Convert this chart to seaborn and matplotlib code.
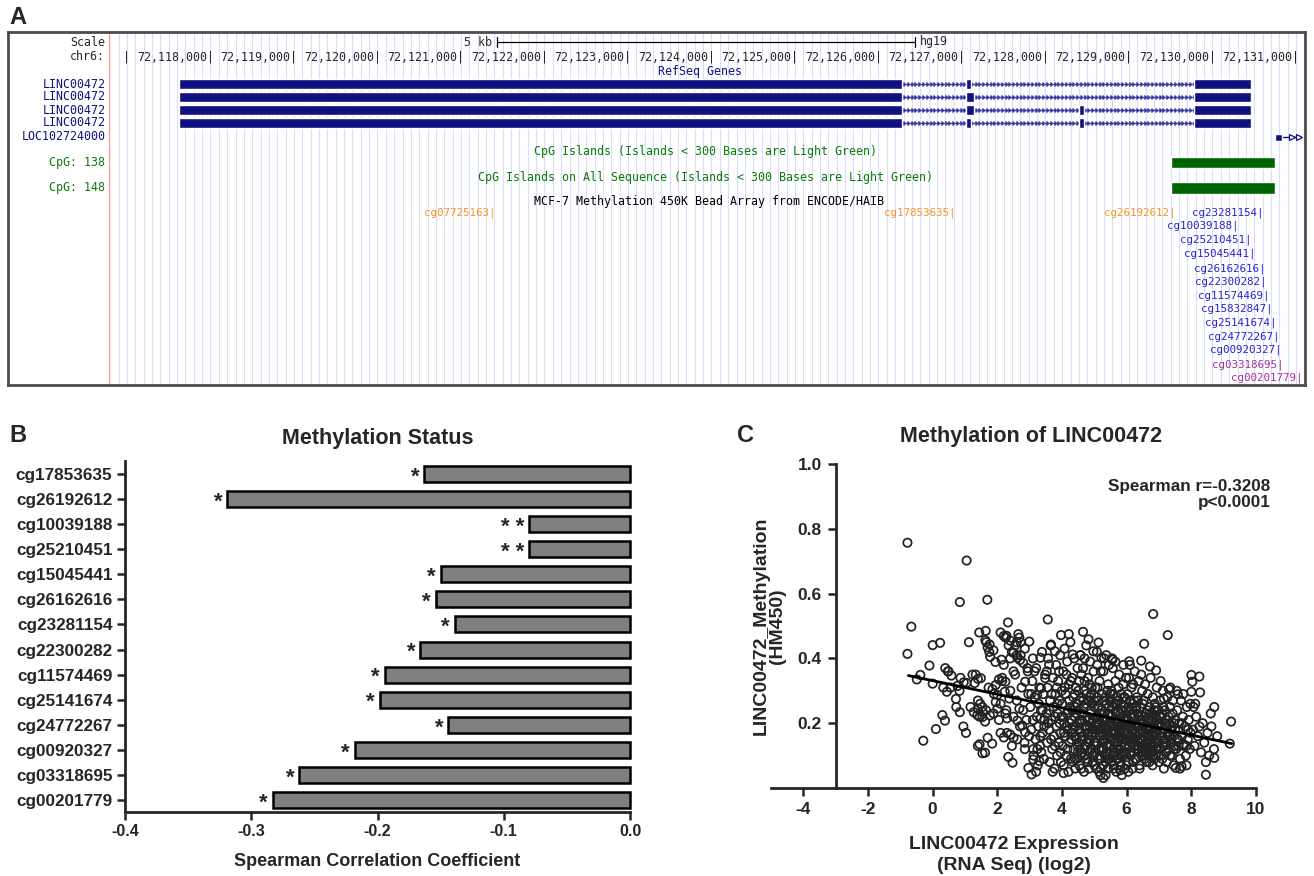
import numpy as np
import pandas as pd
import matplotlib
matplotlib.use("Agg")
import matplotlib.pyplot as plt
import seaborn as sns

# ------------------------------
# Panel A : UCSC browser track (hg19, chr6)
# ------------------------------
kb_ticks = list(range(72118000, 72132000, 1000))
scale_bar = [72121431, 72126437]
linc_exons = [
    [(72117620, 72126280), (72127050, 72127110), (72129778, 72130461)],
    [(72117620, 72126280), (72127050, 72127145), (72129778, 72130461)],
    [(72117620, 72126280), (72127050, 72127145), (72128400, 72128462), (72129778, 72130461)],
    [(72117620, 72126280), (72127050, 72127110), (72128400, 72128462), (72129778, 72130461)],
]
loc_gene = [72130750, 72130834, 72131061]
cpg_island = [72129503, 72130750]
probe_names = ['cg07725163', 'cg17853635', 'cg26192612', 'cg23281154', 'cg10039188',
               'cg25210451', 'cg15045441', 'cg26162616', 'cg22300282', 'cg11574469',
               'cg15832847', 'cg25141674', 'cg24772267', 'cg00920327', 'cg03318695',
               'cg00201779']
probe_pos = [72121383, 72126892, 72129527, 72130581, 72130281, 72130437, 72130485,
             72130605, 72130612, 72130653, 72130689, 72130737, 72130773, 72130796,
             72130820, 72131048]
probe_group = ['orange'] * 3 + ['blue'] * 11 + ['purple'] * 2

# ------------------------------
# Panel B : Spearman correlation per probe
# ------------------------------
probes_b = ['cg17853635', 'cg26192612', 'cg10039188', 'cg25210451', 'cg15045441',
            'cg26162616', 'cg23281154', 'cg22300282', 'cg11574469', 'cg25141674',
            'cg24772267', 'cg00920327', 'cg03318695', 'cg00201779']
rho_b = [-0.163, -0.319, -0.080, -0.080, -0.150, -0.154, -0.139, -0.166,
         -0.194, -0.198, -0.144, -0.218, -0.262, -0.283]
signif_b = ['*', '*', '* *', '* *', '*', '*', '*', '*', '*', '*', '*', '*', '*', '*']

# ------------------------------
# Panel C : expression vs methylation
# ------------------------------
outer_points = [
    (-0.78, 0.757), (1.05, 0.702), (0.84, 0.574), (1.69, 0.581), (-0.66, 0.498), (3.56, 0.52),
    (2.33, 0.511), (6.82, 0.537), (7.27, 0.472), (4.65, 0.482), (4.21, 0.475), (3.97, 0.472),
    (1.44, 0.48), (1.64, 0.485), (1.12, 0.45), (0.0, 0.441), (0.23, 0.448), (-0.78, 0.414),
    (-0.1, 0.378), (-0.38, 0.349), (-0.49, 0.335), (0.0, 0.322), (0.47, 0.36), (0.58, 0.347),
    (0.44, 0.297), (0.72, 0.275), (0.83, 0.30), (0.96, 0.326), (1.05, 0.324), (1.30, 0.324),
    (1.40, 0.337), (1.49, 0.339), (0.84, 0.234), (0.38, 0.208), (0.1, 0.182), (-0.29, 0.146),
    (1.03, 0.17), (1.27, 0.234), (1.54, 0.25), (1.54, 0.219), (1.62, 0.205), (1.77, 0.224),
    (1.84, 0.137), (1.62, 0.109), (1.54, 0.107), (2.2, 0.156), (2.47, 0.078), (3.06, 0.042),
    (4.05, 0.046), (5.28, 0.031), (5.80, 0.055), (8.45, 0.041), (8.71, 0.093), (8.62, 0.19),
    (9.23, 0.205), (9.19, 0.137), (8.71, 0.25), (8.0, 0.349), (8.25, 0.344), (8.27, 0.295),
    (8.03, 0.328), (8.0, 0.297), (8.07, 0.25), (7.31, 0.305), (6.91, 0.363), (7.15, 0.276),
    (7.58, 0.289), (7.76, 0.135), (7.85, 0.13), (7.52, 0.062), (7.70, 0.067), (6.54, 0.445),
    (6.08, 0.391), (6.45, 0.393), (6.72, 0.375), (5.13, 0.449), (4.82, 0.459), (4.97, 0.422),
    (5.22, 0.402), (5.56, 0.396), (3.66, 0.443), (3.78, 0.422), (4.33, 0.412), (4.57, 0.41),
    (3.33, 0.402), (2.68, 0.464), (2.99, 0.452), (2.2, 0.469), (2.26, 0.464), (1.76, 0.443),
    (1.88, 0.425), (1.94, 0.389), (2.13, 0.396), (2.5, 0.417), (2.62, 0.402), (2.8, 0.386),
    (2.94, 0.36), (2.86, 0.328), (2.5, 0.36), (2.25, 0.328), (2.23, 0.297), (1.95, 0.318),
    (2.0, 0.287), (2.37, 0.276), (2.68, 0.245), (2.62, 0.208), (2.77, 0.193), (2.86, 0.172),
    (2.84, 0.14), (3.11, 0.12), (3.11, 0.088), (3.3, 0.083), (3.33, 0.214), (3.23, 0.287),
    (3.35, 0.308), (3.48, 0.339), (3.6, 0.381),
    (1.63, 0.456), (1.66, 0.45), (1.70, 0.434), (1.75, 0.42), (1.78, 0.405), (2.10, 0.48),
    (2.28, 0.47), (2.40, 0.455), (2.55, 0.44), (2.65, 0.475), (2.72, 0.45), (2.45, 0.42),
    (2.6, 0.41), (2.7, 0.395), (0.39, 0.37), (0.49, 0.36), (0.86, 0.34), (1.23, 0.35),
    (1.33, 0.35), (0.33, 0.31), (0.55, 0.31), (0.77, 0.315), (1.73, 0.31), (1.85, 0.305),
    (2.05, 0.335), (2.15, 0.34), (1.40, 0.27), (1.47, 0.26), (1.40, 0.245), (1.55, 0.235),
    (1.65, 0.24), (1.38, 0.225), (1.45, 0.22), (1.9, 0.29), (1.95, 0.265), (2.0, 0.245),
    (1.88, 0.23), (2.25, 0.23), (2.3, 0.215), (0.73, 0.25), (1.17, 0.25), (0.3, 0.225),
    (0.95, 0.19), (1.4, 0.13), (1.45, 0.135), (1.7, 0.155), (2.1, 0.17), (2.4, 0.165),
    (2.5, 0.155), (2.34, 0.096), (2.96, 0.062),
]
cloud_points = [
    (2.05, 0.21), (2.1, 0.26), (2.15, 0.33), (2.2, 0.38), (2.28, 0.24), (2.3, 0.17), (2.35, 0.44),
    (2.4, 0.30), (2.45, 0.13), (2.5, 0.22), (2.55, 0.35), (2.6, 0.27), (2.62, 0.15), (2.7, 0.19),
    (2.72, 0.41), (2.75, 0.31), (2.8, 0.24), (2.85, 0.12), (2.9, 0.21), (2.93, 0.37), (2.96, 0.29),
    (2.98, 0.16), (2.6, 0.45), (2.4, 0.40), (2.85, 0.43),
    (3.02, 0.25), (3.05, 0.18), (3.08, 0.33), (3.1, 0.21), (3.12, 0.10), (3.15, 0.28), (3.18, 0.15),
    (3.2, 0.37), (3.22, 0.22), (3.25, 0.07), (3.27, 0.19), (3.3, 0.31), (3.32, 0.13), (3.35, 0.24),
    (3.38, 0.42), (3.4, 0.17), (3.42, 0.29), (3.44, 0.09), (3.46, 0.21), (3.48, 0.35), (3.1, 0.40),
    (3.2, 0.05), (3.28, 0.26), (3.36, 0.11), (3.45, 0.19), (3.05, 0.29), (3.15, 0.36), (3.4, 0.24),
    (3.33, 0.16), (3.24, 0.12),
    (3.52, 0.23), (3.54, 0.14), (3.55, 0.31), (3.57, 0.40), (3.6, 0.18), (3.62, 0.08), (3.63, 0.27),
    (3.65, 0.44), (3.67, 0.21), (3.7, 0.12), (3.72, 0.34), (3.74, 0.25), (3.75, 0.16), (3.77, 0.06),
    (3.8, 0.29), (3.82, 0.38), (3.83, 0.19), (3.85, 0.10), (3.87, 0.23), (3.88, 0.33), (3.9, 0.14),
    (3.92, 0.27), (3.94, 0.41), (3.95, 0.17), (3.97, 0.08), (3.98, 0.22), (3.53, 0.36), (3.58, 0.20),
    (3.68, 0.29), (3.71, 0.05), (3.78, 0.13), (3.86, 0.26), (3.91, 0.36), (3.96, 0.11), (3.61, 0.24),
    (3.66, 0.15), (3.79, 0.22), (3.84, 0.31), (3.93, 0.20), (3.99, 0.30),
    (4.01, 0.26), (4.02, 0.13), (4.04, 0.36), (4.05, 0.07), (4.07, 0.20), (4.08, 0.43), (4.1, 0.16),
    (4.11, 0.29), (4.13, 0.10), (4.15, 0.23), (4.16, 0.39), (4.18, 0.18), (4.2, 0.05), (4.21, 0.32),
    (4.23, 0.14), (4.25, 0.25), (4.26, 0.45), (4.28, 0.09), (4.3, 0.21), (4.31, 0.34), (4.33, 0.17),
    (4.35, 0.28), (4.36, 0.12), (4.38, 0.40), (4.4, 0.22), (4.41, 0.06), (4.43, 0.31), (4.45, 0.15),
    (4.46, 0.26), (4.48, 0.37), (4.49, 0.11), (4.03, 0.22), (4.09, 0.31), (4.12, 0.19), (4.17, 0.12),
    (4.22, 0.27), (4.24, 0.20), (4.29, 0.15), (4.32, 0.24), (4.37, 0.19), (4.42, 0.16), (4.44, 0.23),
    (4.47, 0.20), (4.06, 0.17), (4.14, 0.35), (4.19, 0.24), (4.27, 0.33), (4.34, 0.08), (4.39, 0.29),
    (4.46, 0.09),
    (4.5, 0.24), (4.51, 0.14), (4.53, 0.33), (4.54, 0.07), (4.56, 0.20), (4.57, 0.41), (4.59, 0.17),
    (4.6, 0.28), (4.62, 0.11), (4.63, 0.23), (4.65, 0.37), (4.66, 0.16), (4.68, 0.05), (4.69, 0.30),
    (4.71, 0.19), (4.72, 0.13), (4.74, 0.26), (4.75, 0.44), (4.77, 0.09), (4.78, 0.22), (4.8, 0.34),
    (4.81, 0.15), (4.83, 0.27), (4.84, 0.06), (4.86, 0.19), (4.87, 0.39), (4.89, 0.12), (4.9, 0.24),
    (4.92, 0.31), (4.93, 0.17), (4.95, 0.08), (4.96, 0.21), (4.98, 0.36), (4.99, 0.14), (4.52, 0.18),
    (4.55, 0.27), (4.58, 0.10), (4.61, 0.21), (4.64, 0.15), (4.67, 0.25), (4.7, 0.12), (4.73, 0.18),
    (4.76, 0.29), (4.79, 0.17), (4.82, 0.21), (4.85, 0.11), (4.88, 0.28), (4.91, 0.16), (4.94, 0.26),
    (4.97, 0.10), (4.6, 0.35), (4.7, 0.40), (4.85, 0.32), (4.55, 0.12), (4.9, 0.20),
    (5.0, 0.25), (5.01, 0.11), (5.03, 0.31), (5.04, 0.17), (5.06, 0.06), (5.07, 0.22), (5.09, 0.38),
    (5.1, 0.14), (5.12, 0.27), (5.13, 0.09), (5.15, 0.20), (5.16, 0.33), (5.18, 0.16), (5.19, 0.04),
    (5.21, 0.24), (5.22, 0.12), (5.24, 0.29), (5.25, 0.19), (5.27, 0.07), (5.28, 0.36), (5.3, 0.15),
    (5.31, 0.23), (5.33, 0.10), (5.34, 0.28), (5.36, 0.18), (5.37, 0.41), (5.39, 0.13), (5.4, 0.21),
    (5.42, 0.06), (5.43, 0.32), (5.45, 0.16), (5.46, 0.25), (5.48, 0.11), (5.49, 0.19), (5.02, 0.19),
    (5.05, 0.14), (5.08, 0.28), (5.11, 0.18), (5.14, 0.12), (5.17, 0.23), (5.2, 0.09), (5.23, 0.17),
    (5.26, 0.21), (5.29, 0.12), (5.32, 0.19), (5.35, 0.08), (5.38, 0.26), (5.41, 0.15), (5.44, 0.20),
    (5.47, 0.09), (5.08, 0.42), (5.2, 0.36), (5.3, 0.40), (5.45, 0.38), (5.15, 0.05), (5.35, 0.04),
    (5.25, 0.14), (5.4, 0.30), (5.12, 0.22), (5.48, 0.27),
    (5.5, 0.22), (5.51, 0.13), (5.53, 0.30), (5.54, 0.08), (5.56, 0.18), (5.57, 0.37), (5.59, 0.15),
    (5.6, 0.26), (5.62, 0.11), (5.63, 0.21), (5.65, 0.33), (5.66, 0.17), (5.68, 0.05), (5.69, 0.28),
    (5.71, 0.14), (5.72, 0.24), (5.74, 0.09), (5.75, 0.19), (5.77, 0.35), (5.78, 0.12), (5.8, 0.23),
    (5.81, 0.07), (5.83, 0.29), (5.84, 0.16), (5.86, 0.20), (5.87, 0.10), (5.89, 0.32), (5.9, 0.18),
    (5.92, 0.25), (5.93, 0.13), (5.95, 0.06), (5.96, 0.22), (5.98, 0.34), (5.99, 0.15), (5.52, 0.17),
    (5.55, 0.25), (5.58, 0.10), (5.61, 0.19), (5.64, 0.14), (5.67, 0.23), (5.7, 0.20), (5.73, 0.16),
    (5.76, 0.27), (5.79, 0.18), (5.82, 0.13), (5.85, 0.24), (5.88, 0.15), (5.91, 0.21), (5.94, 0.28),
    (5.97, 0.11), (5.55, 0.40), (5.65, 0.39), (5.75, 0.31), (5.9, 0.38), (5.6, 0.06), (5.85, 0.04),
    (5.7, 0.09), (5.95, 0.19), (5.8, 0.17), (5.58, 0.29),
    (6.0, 0.21), (6.01, 0.12), (6.03, 0.29), (6.04, 0.17), (6.06, 0.08), (6.07, 0.34), (6.09, 0.15),
    (6.1, 0.24), (6.12, 0.10), (6.13, 0.19), (6.15, 0.31), (6.16, 0.14), (6.18, 0.06), (6.19, 0.26),
    (6.21, 0.18), (6.22, 0.11), (6.24, 0.22), (6.25, 0.36), (6.27, 0.13), (6.28, 0.20), (6.3, 0.09),
    (6.31, 0.28), (6.33, 0.16), (6.34, 0.23), (6.36, 0.12), (6.37, 0.33), (6.39, 0.19), (6.4, 0.07),
    (6.42, 0.25), (6.43, 0.15), (6.45, 0.21), (6.46, 0.10), (6.48, 0.30), (6.49, 0.17), (6.02, 0.19),
    (6.05, 0.25), (6.08, 0.13), (6.11, 0.20), (6.14, 0.16), (6.17, 0.22), (6.2, 0.14), (6.23, 0.27),
    (6.26, 0.17), (6.29, 0.24), (6.32, 0.12), (6.35, 0.19), (6.38, 0.14), (6.41, 0.21), (6.44, 0.18),
    (6.47, 0.13), (6.1, 0.38), (6.2, 0.32), (6.35, 0.27), (6.05, 0.05), (6.45, 0.35),
    (6.5, 0.20), (6.51, 0.11), (6.53, 0.27), (6.54, 0.16), (6.56, 0.09), (6.57, 0.32), (6.59, 0.14),
    (6.6, 0.23), (6.62, 0.08), (6.63, 0.18), (6.65, 0.29), (6.66, 0.12), (6.68, 0.21), (6.69, 0.10),
    (6.71, 0.25), (6.72, 0.15), (6.74, 0.34), (6.75, 0.19), (6.77, 0.11), (6.78, 0.23), (6.8, 0.16),
    (6.81, 0.28), (6.83, 0.13), (6.84, 0.20), (6.86, 0.09), (6.87, 0.26), (6.89, 0.17), (6.9, 0.22),
    (6.92, 0.12), (6.93, 0.31), (6.95, 0.15), (6.96, 0.19), (6.98, 0.24), (6.99, 0.10), (6.52, 0.19),
    (6.55, 0.22), (6.58, 0.17), (6.61, 0.14), (6.64, 0.24), (6.67, 0.16), (6.7, 0.19), (6.73, 0.13),
    (6.76, 0.21), (6.79, 0.17), (6.82, 0.10), (6.85, 0.24), (6.88, 0.14), (6.91, 0.18), (6.94, 0.21),
    (6.97, 0.13),
    (7.0, 0.19), (7.02, 0.12), (7.04, 0.27), (7.06, 0.16), (7.08, 0.22), (7.1, 0.09), (7.12, 0.30),
    (7.14, 0.18), (7.16, 0.13), (7.18, 0.24), (7.2, 0.15), (7.22, 0.21), (7.24, 0.08), (7.26, 0.28),
    (7.28, 0.17), (7.3, 0.12), (7.32, 0.20), (7.34, 0.25), (7.36, 0.14), (7.38, 0.18), (7.4, 0.10),
    (7.42, 0.23), (7.44, 0.16), (7.46, 0.20), (7.48, 0.13), (7.05, 0.33), (7.15, 0.06), (7.25, 0.19),
    (7.35, 0.31), (7.45, 0.07), (7.03, 0.20), (7.13, 0.25), (7.23, 0.14), (7.33, 0.16), (7.43, 0.27),
    (7.5, 0.18), (7.53, 0.12), (7.56, 0.24), (7.59, 0.15), (7.62, 0.20), (7.65, 0.09), (7.68, 0.27),
    (7.71, 0.16), (7.74, 0.22), (7.77, 0.13), (7.8, 0.19), (7.83, 0.10), (7.86, 0.25), (7.89, 0.15),
    (7.92, 0.21), (7.95, 0.12), (7.98, 0.17), (7.55, 0.30), (7.65, 0.06), (7.75, 0.29), (7.85, 0.07),
    (7.6, 0.13), (7.7, 0.20), (7.9, 0.18), (7.97, 0.26),
    (8.05, 0.18), (8.1, 0.13), (8.15, 0.22), (8.2, 0.16), (8.3, 0.11), (8.35, 0.20), (8.4, 0.14),
    (8.5, 0.17), (8.55, 0.10), (8.6, 0.23), (8.7, 0.12), (8.8, 0.16), (8.12, 0.26), (8.45, 0.08),
    (8.25, 0.19),
]
core_points = [
    (4.35, 0.18), (4.42, 0.25), (4.48, 0.13), (4.55, 0.21), (4.62, 0.16), (4.66, 0.27), (4.71, 0.10),
    (4.77, 0.19), (4.83, 0.14), (4.88, 0.23), (4.94, 0.18), (4.99, 0.27), (5.03, 0.13), (5.07, 0.20),
    (5.11, 0.25), (5.16, 0.10), (5.2, 0.18), (5.24, 0.23), (5.29, 0.15), (5.33, 0.21), (5.37, 0.11),
    (5.42, 0.18), (5.46, 0.23), (5.5, 0.15), (5.54, 0.20), (5.58, 0.12), (5.62, 0.17), (5.66, 0.26),
    (5.7, 0.13), (5.74, 0.21), (5.78, 0.08), (5.82, 0.19), (5.86, 0.15), (5.9, 0.11), (5.94, 0.17),
    (5.98, 0.24), (6.02, 0.15), (6.06, 0.21), (6.1, 0.11), (6.14, 0.18), (6.18, 0.23), (6.22, 0.15),
    (6.26, 0.09), (6.3, 0.19), (6.34, 0.13), (6.38, 0.22), (6.42, 0.17), (6.46, 0.12), (6.5, 0.15),
    (6.54, 0.21), (6.58, 0.11), (6.62, 0.19), (6.66, 0.14), (6.7, 0.08), (6.74, 0.18), (6.78, 0.13),
    (6.82, 0.22), (6.86, 0.16), (6.9, 0.10), (6.94, 0.17), (6.98, 0.14), (7.02, 0.22), (7.06, 0.10),
    (7.1, 0.17), (7.14, 0.13), (7.18, 0.20), (7.22, 0.11), (7.26, 0.16), (7.3, 0.22), (7.34, 0.10),
    (7.38, 0.15), (7.42, 0.19), (7.46, 0.12), (7.5, 0.21), (7.55, 0.15), (7.6, 0.18), (4.4, 0.09),
    (4.6, 0.06), (4.8, 0.08), (5.0, 0.07), (5.2, 0.06), (5.4, 0.09), (5.6, 0.07), (5.8, 0.10),
    (6.0, 0.07), (6.2, 0.08), (6.4, 0.06), (6.6, 0.10), (6.8, 0.07), (7.0, 0.08), (4.5, 0.30),
    (4.7, 0.33), (4.9, 0.29), (5.1, 0.31), (5.3, 0.27), (5.5, 0.29), (5.7, 0.26), (5.9, 0.28),
    (6.1, 0.27), (6.3, 0.25), (6.5, 0.26), (6.7, 0.23), (6.9, 0.25), (7.1, 0.23),
]
fit_x = [-0.75, 9.25]
fit_y = [0.347, 0.137]

# ------------------------------
# Style
# ------------------------------
sns.set_style("ticks")
plt.rcParams['font.family'] = ['Liberation Sans', 'DejaVu Sans']
plt.rcParams['font.weight'] = 'bold'
plt.rcParams['axes.labelweight'] = 'bold'
plt.rcParams['axes.titleweight'] = 'bold'
plt.rcParams['axes.unicode_minus'] = False

W, H = 1314, 876
fig = plt.figure(figsize=(W / 100, H / 100), dpi=100)


def px_axes(left, top, right, bottom):
    return fig.add_axes([left / W, 1 - bottom / H, (right - left) / W, (bottom - top) / H])


navy = '#10107e'
green = '#0a7a0a'
probe_colors = {'orange': '#f7931e', 'blue': '#2424d0', 'purple': '#a0309a'}
mono = dict(family='DejaVu Sans Mono', fontweight='normal')
ts = 8.4

# ------------------------------
# Panel A
# ------------------------------
axA = px_axes(8, 32, 1305, 385)
axA.set_xlim(72115575, 72131108)
axA.set_ylim(385, 32)
axA.set_xticks([])
axA.set_yticks([])
for s in axA.spines.values():
    s.set_linewidth(2)
    s.set_color('#4d4d4d')

label_x = 72116740
axA.vlines(np.arange(72116900, 72131101, 100), 32, 385, color='#dadcff', lw=0.8, zorder=0)
axA.axvline(72116790, color='#ff9c9c', lw=1.0, zorder=1)

# scale + ruler
axA.plot(scale_bar, [42, 42], color='black', lw=0.9)
axA.plot([scale_bar[0]] * 2, [37, 47], color='black', lw=0.9)
axA.plot([scale_bar[1]] * 2, [37, 47], color='black', lw=0.9)
axA.text(scale_bar[0] - 60, 42, '5 kb', ha='right', va='center', size=ts, **mono)
axA.text(scale_bar[1] + 60, 42, 'hg19', ha='left', va='center', size=ts, **mono)
axA.text(label_x, 42, 'Scale', ha='right', va='center', size=ts, **mono)
axA.text(label_x, 57, 'chr6:', ha='right', va='center', size=ts, **mono)
axA.text(kb_ticks[0] - 1000, 57, '|', ha='center', va='center', size=ts, **mono)
for kb in kb_ticks:
    axA.text(kb + 40, 57, f'{kb:,}|', ha='right', va='center', size=ts, **mono)

# RefSeq genes
axA.text(72123862, 71, 'RefSeq Genes', ha='center', va='center', size=ts, color=navy, **mono)
for y, exons in zip([84, 97, 110, 123], linc_exons):
    start, end = exons[0][0], exons[-1][1]
    axA.plot([start, end], [y, y], color='#4444aa', lw=1.0, zorder=2)
    arrows = np.arange(start + 60, end, 45)
    axA.plot(arrows, [y] * len(arrows), ls='none', marker=5, ms=2.2, color='#3a3a9e', zorder=2)
    for s0, e0 in exons:
        axA.barh(y, e0 - s0, left=s0, height=9.5, color=navy, zorder=3)
    axA.text(label_x, y, 'LINC00472', ha='right', va='center', size=ts, color=navy, **mono)

axA.text(label_x, 137, 'LOC102724000', ha='right', va='center', size=ts, color=navy, **mono)
axA.barh(137, loc_gene[1] - loc_gene[0], left=loc_gene[0], height=7, color=navy, zorder=3)
axA.plot([loc_gene[1], loc_gene[2]], [137, 137], color=navy, lw=1.0)
axA.plot([loc_gene[2] - 110, loc_gene[2] - 30], [137, 137], ls='none', marker='>', ms=4.5,
         mfc='white', mec=navy, mew=0.9)

# CpG islands
axA.text(72123934, 152, 'CpG Islands (Islands < 300 Bases are Light Green)', ha='center',
         va='center', size=ts, color=green, **mono)
axA.text(72123934, 177, 'CpG Islands on All Sequence (Islands < 300 Bases are Light Green)',
         ha='center', va='center', size=ts, color=green, **mono)
for y, lab in zip([162.5, 188], ['CpG: 138', 'CpG: 148']):
    axA.barh(y, cpg_island[1] - cpg_island[0], left=cpg_island[0], height=11.5, color='#006400', zorder=3)
    axA.text(label_x, y, lab, ha='right', va='center', size=ts, color=green, **mono)

# methylation probes
axA.text(72123970, 202, 'MCF-7 Methylation 450K Bead Array from ENCODE/HAIB', ha='center',
         va='center', size=ts, color='black', **mono)
probe_rows = [213, 213, 213, 213, 226, 240, 254, 269, 282, 296, 309, 323, 337, 350, 365, 378]
for name, pos, grp, y in zip(probe_names, probe_pos, probe_group, probe_rows):
    axA.text(pos + 30, y, f'{name}|', ha='right', va='center', size=7.8,
             color=probe_colors[grp], **mono)

# ------------------------------
# Panel B
# ------------------------------
dfB = pd.DataFrame({'probe': probes_b, 'rho': rho_b})
axB = px_axes(125, 461, 630, 812)
sns.barplot(data=dfB, x='rho', y='probe', orient='h', color='#7f7f7f', saturation=1,
            edgecolor='black', linewidth=1.8, width=0.64, ax=axB)
for p in axB.patches:
    p.set_clip_on(False)
axB.set_xlim(-0.4, 0)
axB.set_ylim(13.48, -0.52)
axB.set_xticks([-0.4, -0.3, -0.2, -0.1, 0.0])
axB.set_xticklabels(['-0.4', '-0.3', '-0.2', '-0.1', '0.0'])
axB.tick_params(axis='both', direction='out', length=6, width=1.8, bottom=True, left=True, pad=3)
axB.tick_params(axis='y', labelsize=12.3)
axB.tick_params(axis='x', labelsize=11.5)
axB.set_ylabel('')
axB.set_xlabel('Spearman Correlation Coefficient', fontsize=13, labelpad=10)
axB.set_title('Methylation Status', fontsize=15.5, pad=12)
sns.despine(ax=axB)
for sp in ['left', 'bottom']:
    axB.spines[sp].set_linewidth(2)
for i, (v, s) in enumerate(zip(rho_b, signif_b)):
    axB.text(v - 0.004, i + 0.12, s, ha='right', va='center', fontsize=16, fontweight='bold')

# ------------------------------
# Panel C
# ------------------------------
pts = np.array(outer_points + cloud_points + core_points)
dfC = pd.DataFrame({'expr': pts[:, 0], 'meth': pts[:, 1]})
axC = px_axes(771, 464, 1256, 788)
sns.scatterplot(data=dfC, x='expr', y='meth', marker='o', s=36, facecolor='none',
                edgecolor='#222222', linewidth=1.25, ax=axC, zorder=2)
sns.lineplot(x=fit_x, y=fit_y, color='black', lw=2, ax=axC, zorder=3)
axC.set_xlim(-5, 10)
axC.set_ylim(0, 1.0)
axC.spines['left'].set_position(('data', -3))
sns.despine(ax=axC)
for sp in ['left', 'bottom']:
    axC.spines[sp].set_linewidth(2)
axC.set_xticks([-4, -2, 0, 2, 4, 6, 8, 10])
axC.set_yticks([0.2, 0.4, 0.6, 0.8, 1.0])
axC.set_yticklabels(['0.2', '0.4', '0.6', '0.8', '1.0'])
axC.tick_params(axis='both', direction='out', length=6, width=1.8, labelsize=12.5,
                bottom=True, left=True, pad=4)
axC.set_xlabel('LINC00472 Expression\n(RNA Seq) (log2)', fontsize=14, labelpad=14,
               linespacing=1.25)
axC.set_ylabel('LINC00472_Methylation\n(HM450)', fontsize=14, labelpad=8, linespacing=0.95)
axC.text(0.536, 1.085, 'Methylation of LINC00472', transform=axC.transAxes, ha='center',
         va='center', fontsize=15.5, fontweight='bold')
axC.text(10.45, 0.955, 'Spearman r=-0.3208\np<0.0001', ha='right', va='top', fontsize=12.3,
         fontweight='bold', linespacing=1.1)

# panel letters
fig.text(9 / W, 1 - 18 / H, 'A', fontsize=17, fontweight='bold', va='center')
fig.text(9 / W, 1 - 436 / H, 'B', fontsize=17, fontweight='bold', va='center')
fig.text(737 / W, 1 - 436 / H, 'C', fontsize=17, fontweight='bold', va='center')

fig.savefig('out.png', dpi=100)
plt.close(fig)
